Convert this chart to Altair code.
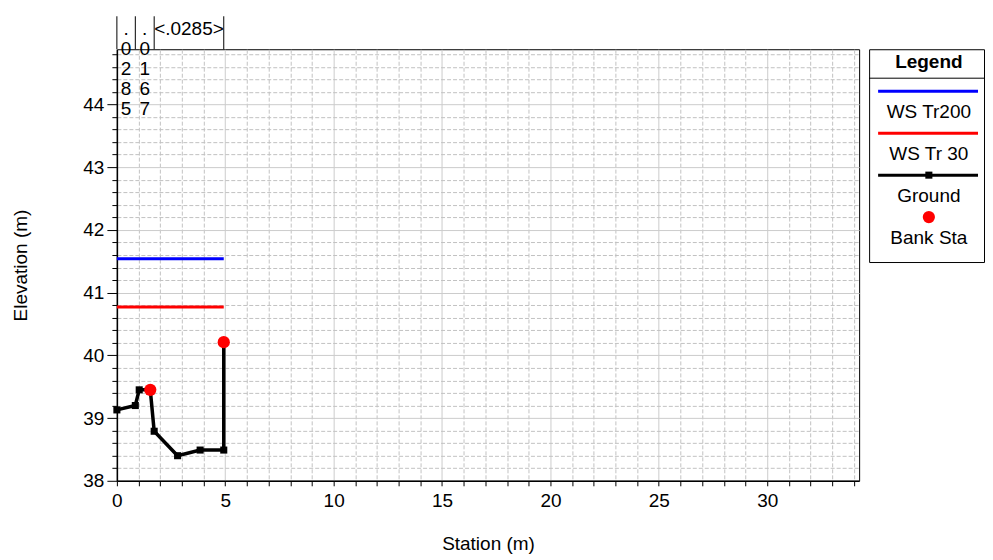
import altair as alt
import pandas as pd

FONT = "Liberation Sans"

# ---- data ----
ground_station = [0.0, 0.85, 1.03, 1.54, 1.72, 2.80, 3.84, 4.93, 4.93]
ground_elev = [39.13, 39.20, 39.45, 39.45, 38.79, 38.40, 38.49, 38.49, 40.21]
bank_station = [1.54, 4.93]
bank_elev = [39.45, 40.21]
ws_names = ["WS Tr200", "WS Tr 30"]
ws_elev = [41.54, 40.77]
ws_start = [0.0, 0.0]
ws_end = [4.93, 4.93]
ws_colors = ["#0000ff", "#ff0000"]
n_breaks = [0.0, 0.85, 1.72, 4.93]
n_values = [".0285", ".0167", ".0285"]
x_ticks = list(range(0, 35))
y_ticks = [round(38 + 0.2 * i, 1) for i in range(35)]
legend_labels = ["WS Tr200", "WS Tr 30", "Ground", "Bank Sta"]

X_DOMAIN = [0, 34.24]
Y_DOMAIN = [38, 44.88]

ground_df = pd.DataFrame({"station": ground_station, "elev": ground_elev,
                          "order": list(range(len(ground_station)))})
bank_df = pd.DataFrame({"station": bank_station, "elev": bank_elev})
ws_df = pd.DataFrame({"name": ws_names, "elev": ws_elev, "x0": ws_start,
                      "x1": ws_end, "color": ws_colors})
nline_df = pd.DataFrame({"station": n_breaks})
ntext = []
for i, v in enumerate(n_values):
    a, b = n_breaks[i], n_breaks[i + 1]
    if b - a > 2:
        t = "<" + v + ">"
    else:
        t = "\n".join(list(v))
    ntext.append({"mid": (a + b) / 2, "text": t})
ntext_df = pd.DataFrame(ntext)

major_x = "datum.value % 5 == 0"
major_y = "abs(datum.value - round(datum.value)) < 0.001"

x_scale = alt.Scale(domain=X_DOMAIN, nice=False, zero=False)
y_scale = alt.Scale(domain=Y_DOMAIN, nice=False, zero=False)

x_axis = alt.Axis(
    title="Station (m)", values=x_ticks,
    labelExpr=f"{major_x} ? format(datum.value, 'd') : ''",
    grid=True,
    gridColor={"condition": {"test": major_x, "value": "#cccccc"}, "value": "#c2c2c2"},
    gridDash={"condition": {"test": major_x, "value": []}, "value": [4, 2]},
    gridWidth=1, tickSize=5, tickColor="black", domainColor="black", domainWidth=1.5,
    labelFontSize=19, labelFont=FONT, labelColor="black", labelPadding=6,
    labelOverlap=False, labelFlush=False,
    titleFontSize=19, titleFont=FONT, titleFontWeight="normal", titleColor="black",
    titlePadding=24,
)
y_axis = alt.Axis(
    title="Elevation (m)", values=y_ticks,
    labelExpr=f"{major_y} ? format(datum.value, '.0f') : ''",
    grid=True,
    gridColor={"condition": {"test": major_y, "value": "#cccccc"}, "value": "#c2c2c2"},
    gridDash={"condition": {"test": major_y, "value": []}, "value": [4, 2]},
    gridWidth=1,
    tickSize={"condition": {"test": major_y, "value": 10}, "value": 5},
    tickColor="black", domainColor="black", domainWidth=1.5,
    labelFontSize=19, labelFont=FONT, labelColor="black", labelPadding=3,
    labelOverlap=False, labelFlush=False,
    titleFontSize=19, titleFont=FONT, titleFontWeight="normal", titleColor="black",
    titlePadding=52,
)

X = lambda f: alt.X(f, type="quantitative", scale=x_scale, axis=x_axis)
Y = lambda f: alt.Y(f, type="quantitative", scale=y_scale, axis=y_axis)

ws_layer = alt.Chart(ws_df).mark_rule(strokeWidth=3).encode(
    x=X("x0"), x2="x1", y=Y("elev"), color=alt.Color("color:N", scale=None))
ground_line = alt.Chart(ground_df).mark_line(color="black", strokeWidth=3.5).encode(
    x=X("station"), y=Y("elev"), order="order:Q")
ground_pts = alt.Chart(ground_df).mark_point(shape="square", filled=True, color="black",
                                             size=50, opacity=1).encode(
    x=X("station"), y=Y("elev"))
bank_pts = alt.Chart(bank_df).mark_circle(color="#ff0000", size=150, opacity=1).encode(
    x=X("station"), y=Y("elev"))
n_lines = alt.Chart(nline_df).mark_rule(color="black", strokeWidth=1).encode(
    x=X("station"), y=alt.value(0), y2=alt.value(-33))
n_texts = alt.Chart(ntext_df).mark_text(font=FONT, fontSize=19, color="black",
                                        baseline="alphabetic", align="center",
                                        lineBreak="\n", lineHeight=20).encode(
    x=X("mid"), y=alt.value(-14.5), text="text:N")

main = alt.layer(ws_layer, ground_line, ground_pts, bank_pts, n_lines, n_texts).properties(
    width=743, height=432)

# ---- legend panel ----
LEG_W = 115
lx = alt.Scale(domain=[0, 1], nice=False, zero=False)
ly = alt.Scale(domain=[-2, 8.14], nice=False, zero=False, reverse=True)
leg_lines = pd.DataFrame({"row": [0, 2, 4], "x0": [9 / LEG_W] * 3,
                          "x1": [(LEG_W - 6) / LEG_W] * 3,
                          "color": ["#0000ff", "#ff0000", "#000000"]})
leg_text = pd.DataFrame({"row": [1, 3, 5, 7], "x": [0.52] * 4, "text": legend_labels})
leg_title = pd.DataFrame({"row": [-1.38], "x": [0.52], "text": ["Legend"]})
leg_sep = pd.DataFrame({"row": [-0.62], "x0": [0], "x1": [1]})
leg_sq = pd.DataFrame({"row": [4], "x": [0.52]})
leg_dot = pd.DataFrame({"row": [6], "x": [0.52]})

LX = lambda f: alt.X(f, type="quantitative", scale=lx, axis=None)
LY = lambda f: alt.Y(f, type="quantitative", scale=ly, axis=None)

legend = alt.layer(
    alt.Chart(leg_sep).mark_rule(color="black", strokeWidth=1).encode(
        x=LX("x0"), x2="x1", y=LY("row")),
    alt.Chart(leg_lines).mark_rule(strokeWidth=3).encode(
        x=LX("x0"), x2="x1", y=LY("row"), color=alt.Color("color:N", scale=None)),
    alt.Chart(leg_sq).mark_point(shape="square", filled=True, color="black", size=50,
                                 opacity=1).encode(x=LX("x"), y=LY("row")),
    alt.Chart(leg_dot).mark_circle(color="#ff0000", size=150, opacity=1).encode(
        x=LX("x"), y=LY("row")),
    alt.Chart(leg_text).mark_text(font=FONT, fontSize=19, color="black",
                                  baseline="middle").encode(
        x=LX("x"), y=LY("row"), text="text:N"),
    alt.Chart(leg_title).mark_text(font=FONT, fontSize=19, fontWeight="bold",
                                   color="black", baseline="middle").encode(
        x=LX("x"), y=LY("row"), text="text:N"),
).properties(width=LEG_W, height=213)

chart = alt.hconcat(main, legend, spacing=10, bounds="flush").properties(
    padding={"left": 3, "top": 7, "right": 0, "bottom": 0},
    background="white",
).configure_view(stroke="black", strokeWidth=1)

chart.save("out.html", embed_options={"renderer": "svg", "actions": False})
